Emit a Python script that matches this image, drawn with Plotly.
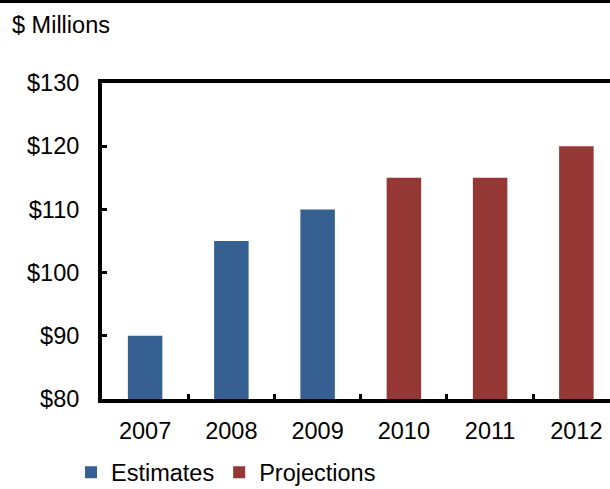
import plotly.graph_objects as go

years = ["2007", "2008", "2009", "2010", "2011", "2012"]
estimates = [90, 105, 110, None, None, None]
projections = [None, None, None, 115, 115, 120]
y_ticks = [80, 90, 100, 110, 120, 130]
y_tick_text = ["$" + str(v) for v in y_ticks]

BLUE = "#376092"
RED = "#953735"
FONT = "Liberation Sans, Arial, sans-serif"
FS = 23.5

fig = go.Figure()
fig.add_trace(go.Bar(x=years, y=estimates, name="Estimates", marker_color=BLUE,
                     marker_line_width=0, width=0.4))
fig.add_trace(go.Bar(x=years, y=projections, name="Projections", marker_color=RED,
                     marker_line_width=0, width=0.4))

fig.update_layout(
    width=610, height=489,
    margin=dict(l=102, r=0, t=83, b=90, autoexpand=False),
    barmode="relative",
    plot_bgcolor="white", paper_bgcolor="white",
    font=dict(family=FONT, size=FS, color="black"),
    showlegend=True,
    legend=dict(orientation="h", x=-0.061, xanchor="left", y=-0.163, yanchor="top",
                font=dict(size=FS), itemwidth=30, traceorder="normal"),
    xaxis=dict(type="category", range=[-0.5, 5.39], showline=True, linewidth=4,
               linecolor="black", mirror=True, ticks="inside", ticklen=5, tickwidth=3,
               tickcolor="black", tickson="boundaries", showgrid=False,
               tickfont=dict(size=FS), ticklabelstandoff=8),
    yaxis=dict(range=[80, 130], tickvals=y_ticks, ticktext=y_tick_text, showline=True,
               linewidth=4, linecolor="black", ticks="inside", ticklen=5, tickwidth=3,
               tickcolor="black", showgrid=False, zeroline=False,
               tickfont=dict(size=FS), ticklabelstandoff=14),
    shapes=[dict(type="line", xref="paper", yref="paper", x0=-0.3, x1=1.1,
                 y0=(316 + 83 - 1.5) / 316, y1=(316 + 83 - 1.5) / 316,
                 line=dict(color="black", width=3))],
    annotations=[dict(text="$ Millions", xref="paper", yref="paper",
                      x=-92 / 508, xanchor="left",
                      y=(489 - 90 - 25) / 316, yanchor="middle",
                      showarrow=False, font=dict(size=FS))],
)

fig.write_html("out.html")
